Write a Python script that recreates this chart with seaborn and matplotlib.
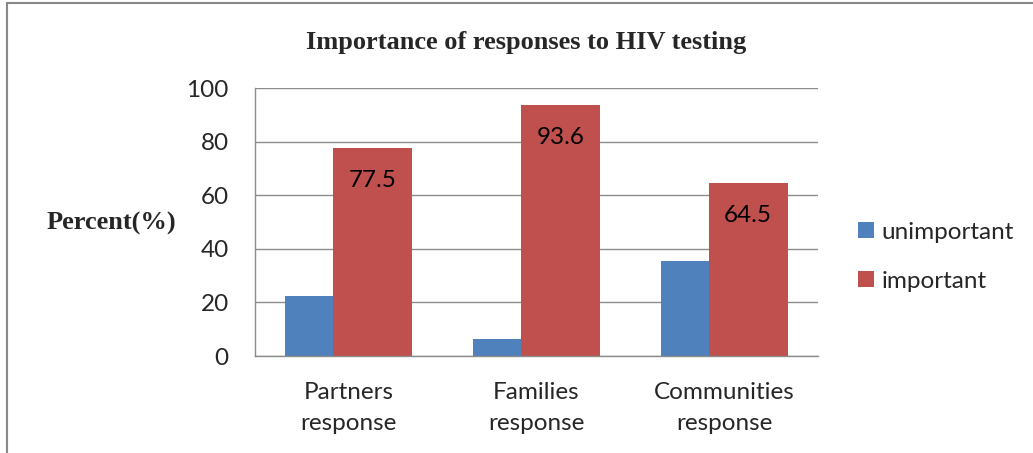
import pandas as pd
import seaborn as sns
import matplotlib.pyplot as plt
from matplotlib.lines import Line2D
from matplotlib.patches import Patch

categories = ['Partners\nresponse', 'Families\nresponse', 'Communities\nresponse']
unimportant = [22.5, 6.4, 35.5]
important = [77.5, 93.6, 64.5]
groups = ['unimportant', 'important']
colors = ['#4F81BD', '#C0504D']

df = pd.DataFrame({
    'category': categories * 2,
    'group': ['unimportant'] * 3 + ['important'] * 3,
    'value': unimportant + important,
})

sns.set_style('white')
plt.rcParams['font.family'] = ['Lato', 'DejaVu Sans']

fig = plt.figure(figsize=(10.33, 4.53), dpi=100)
ax = fig.add_axes([0.2469, 0.2141, 0.5450, 0.5916])

sns.barplot(data=df, x='category', y='value', hue='group', hue_order=groups,
            palette=colors, saturation=1, width=0.84, dodge=True, ax=ax,
            errorbar=None, legend=False)

# excel style overlap: red bars partly cover the blue ones
shifts = [0.082, -0.082]
for cont, s in zip(ax.containers, shifts):
    for p in cont.patches:
        p.set_x(p.get_x() + s)
        p.set_linewidth(0)

for p, v in zip(ax.containers[1].patches, important):
    ax.text(p.get_x() + p.get_width() / 2, v - 12, str(v),
            ha='center', va='center', fontsize=17.5, color='black')

ax.set_ylim(0, 100)
ax.set_xlim(-0.5, 2.5)
ax.set_yticks([0, 20, 40, 60, 80, 100])
ax.yaxis.grid(True, color='#8c8c8c', linewidth=1)
ax.set_axisbelow(True)
for side in ['top', 'right']:
    ax.spines[side].set_visible(False)
for side in ['left', 'bottom']:
    ax.spines[side].set_color('#8c8c8c')
    ax.spines[side].set_linewidth(1)
ax.tick_params(axis='y', length=0, pad=19, labelsize=17.5)
ax.tick_params(axis='x', length=0, pad=19, labelsize=17.5)
for lab in ax.get_xticklabels():
    lab.set_linespacing(1.55)
ax.set_xlabel('')
ax.set_ylabel('')

fig.text(0.509, 1 - 43 / 453, 'Importance of responses to HIV testing',
         ha='center', va='center', fontsize=19, fontweight='bold',
         family='Liberation Serif')
fig.text(47 / 1033, 1 - 223 / 453, 'Percent(%)', ha='left', va='center',
         fontsize=19, fontweight='bold', family='Liberation Serif')

handles = [Patch(facecolor=c, edgecolor='none') for c in colors]
fig.legend(handles, groups, loc='center left', bbox_to_anchor=(0.831, 0.433),
           frameon=False, fontsize=17.5, handlelength=0.65, handleheight=0.65,
           handletextpad=0.3, labelspacing=1.15, borderaxespad=0, borderpad=0)

# outer chart border (left and top edges visible)
fig.add_artist(Line2D([7 / 1033, 7 / 1033], [0, 1 - 3 / 453], color='#888888', linewidth=1.5))
fig.add_artist(Line2D([7 / 1033, 1], [1 - 3 / 453, 1 - 3 / 453], color='#888888', linewidth=1.5))

plt.savefig('out.png', dpi=100)
